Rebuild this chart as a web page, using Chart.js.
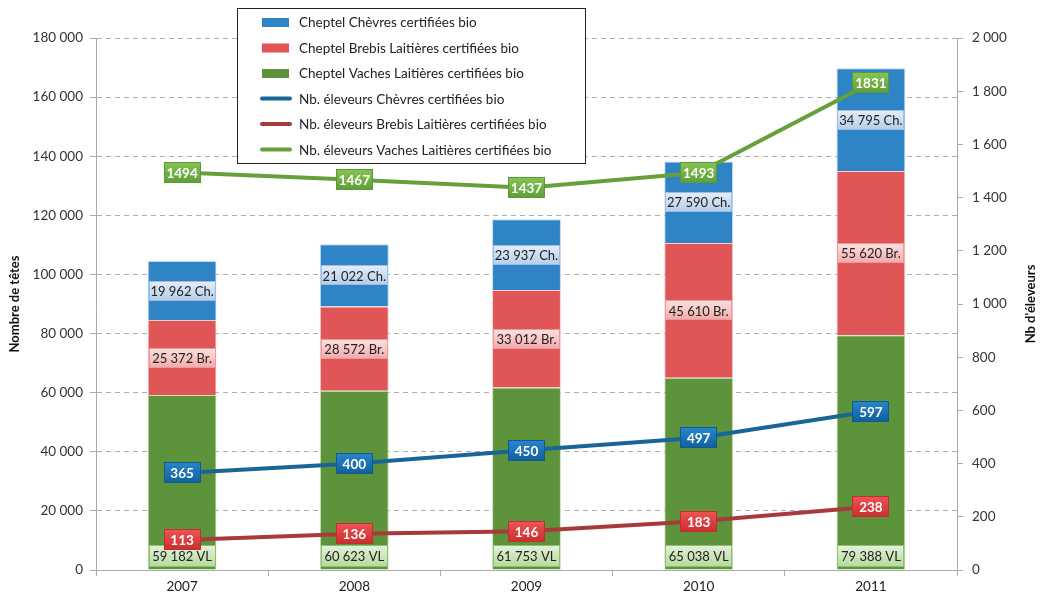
<!DOCTYPE html>
<html>
<head>
<meta charset="utf-8">
<script src="https://cdn.jsdelivr.net/npm/chart.js@4"></script>
<style>
  body { margin: 0; background: #fff; }
  #wrap { width: 1044px; height: 596px; }
</style>
</head>
<body>
<div id="wrap"><canvas id="graphique" width="1044" height="596"></canvas></div>
<script>
// Données
const annees = ['2007', '2008', '2009', '2010', '2011'];
const chevres = [19962, 21022, 23937, 27590, 34795];
const brebis = [25372, 28572, 33012, 45610, 55620];
const vaches = [59182, 60623, 61753, 65038, 79388];
const elevChevres = [365, 400, 450, 497, 597];
const elevBrebis = [113, 136, 146, 183, 238];
const elevVaches = [1494, 1467, 1437, 1493, 1831];
const ticksGauche = [0, 20000, 40000, 60000, 80000, 100000, 120000, 140000, 160000, 180000];

const police = 'Lato, "Open Sans", sans-serif';

function espaces(v) {
    return String(v).replace(/\B(?=(\d{3})+(?!\d))/g, ' ');
}

// boîte d'étiquette avec dégradé
function boite(ctx, cx, cy, w, h, haut, bas, bord, texte, couleurTexte, gras) {
    const x = Math.round(cx - w / 2), y = Math.round(cy - h / 2);
    const g = ctx.createLinearGradient(0, y, 0, y + h);
    g.addColorStop(0, haut);
    g.addColorStop(1, bas);
    ctx.fillStyle = g;
    ctx.fillRect(x, y, w, h);
    ctx.strokeStyle = bord;
    ctx.lineWidth = 1;
    ctx.strokeRect(x + 0.5, y + 0.5, w - 1, h - 1);
    ctx.fillStyle = couleurTexte;
    ctx.font = (gras ? 'bold 13.5px ' : '13px ') + police;
    ctx.textAlign = 'center';
    ctx.textBaseline = 'middle';
    ctx.fillText(texte, cx, cy + 1);
}

const etiquettes = {
    id: 'etiquettes',
    afterDraw(chart) {
        const ctx = chart.ctx;
        ctx.save();
        // étiquettes des barres
        const vl = chart.getDatasetMeta(0).data;
        const br = chart.getDatasetMeta(1).data;
        const ch = chart.getDatasetMeta(2).data;
        for (let i = 0; i < annees.length; i++) {
            const w = 67;
            boite(ctx, ch[i].x, (ch[i].y + ch[i].base) / 2, w, 20, '#e4eef9', '#b3cdea', '#9dbde0', espaces(chevres[i]) + ' Ch.', '#222', false);
            boite(ctx, br[i].x, (br[i].y + br[i].base) / 2, w, 20, '#fde2e2', '#f2a9a9', '#eb9a9a', espaces(brebis[i]) + ' Br.', '#222', false);
            boite(ctx, vl[i].x, vl[i].base - 14, w, 22, '#e6f2dc', '#b6d89d', '#8cc06a', espaces(vaches[i]) + ' VL', '#222', false);
        }
        // étiquettes des lignes
        const series = [
            [3, elevChevres, '#2a86cc', '#105f9c', '#0f5a94'],
            [4, elevBrebis, '#f05454', '#c92e2e', '#c03030'],
            [5, elevVaches, '#86c453', '#5f9e38', '#5b9936']
        ];
        series.forEach(([idx, vals, haut, bas, bord]) => {
            chart.getDatasetMeta(idx).data.forEach((p, i) => {
                boite(ctx, p.x, p.y, 37, 21, haut, bas, bord, String(vals[i]), '#fff', true);
            });
        });
        // titres des axes
        ctx.fillStyle = '#111';
        ctx.font = 'bold 13px ' + police;
        ctx.textAlign = 'center';
        ctx.textBaseline = 'middle';
        ctx.translate(15, 304);
        ctx.rotate(-Math.PI / 2);
        ctx.fillText('Nombre de têtes', 0, 0);
        ctx.setTransform(1, 0, 0, 1, 0, 0);
        ctx.translate(1031, 304);
        ctx.rotate(-Math.PI / 2);
        ctx.fillText("Nb d'éleveurs", 0, 0);
        ctx.setTransform(1, 0, 0, 1, 0, 0);
        // légende
        ctx.fillStyle = '#fff';
        ctx.fillRect(237.5, 8.5, 348, 155);
        ctx.strokeStyle = '#222';
        ctx.lineWidth = 1;
        ctx.strokeRect(237.5, 8.5, 348, 155);
        const items = [
            ['rect', '#2f84c5', 'Cheptel Chèvres certifiées bio'],
            ['rect', '#e05555', 'Cheptel Brebis Laitières certifiées bio'],
            ['rect', '#5d933b', 'Cheptel Vaches Laitières certifiées bio'],
            ['line', '#1a6598', 'Nb. éleveurs Chèvres certifiées bio'],
            ['line', '#a93a3a', 'Nb. éleveurs Brebis Laitières certifiées bio'],
            ['line', '#66a03c', 'Nb. éleveurs Vaches Laitières certifiées bio']
        ];
        ctx.font = '13.5px ' + police;
        ctx.textAlign = 'left';
        items.forEach(([type, couleur, texte], i) => {
            const y = 22 + i * 25.5;
            if (type === 'rect') {
                ctx.fillStyle = couleur;
                ctx.fillRect(262, y - 4, 27, 9);
            } else {
                ctx.strokeStyle = couleur;
                ctx.lineWidth = 4;
                ctx.lineCap = 'round';
                ctx.beginPath();
                ctx.moveTo(262, y);
                ctx.lineTo(290, y);
                ctx.stroke();
            }
            ctx.fillStyle = '#222';
            ctx.fillText(texte, 299, y + 1);
        });
        ctx.restore();
    }
};

Chart.defaults.font.family = police;
Chart.defaults.font.size = 13;
Chart.defaults.color = '#333';

const ctx = document.getElementById('graphique').getContext('2d');
new Chart(ctx, {
    type: 'bar',
    data: {
        labels: annees,
        datasets: [
            { label: 'Cheptel Vaches Laitières certifiées bio', data: vaches, backgroundColor: '#5d933b', borderColor: 'rgba(190,220,170,0.8)', borderWidth: 1, yAxisID: 'y', stack: 'cheptel', order: 1 },
            { label: 'Cheptel Brebis Laitières certifiées bio', data: brebis, backgroundColor: '#e05555', borderColor: 'rgba(250,190,190,0.8)', borderWidth: 1, yAxisID: 'y', stack: 'cheptel', order: 1 },
            { label: 'Cheptel Chèvres certifiées bio', data: chevres, backgroundColor: '#2f84c5', borderColor: 'rgba(180,210,240,0.8)', borderWidth: 1, yAxisID: 'y', stack: 'cheptel', order: 1 },
            { type: 'line', label: 'Nb. éleveurs Chèvres certifiées bio', data: elevChevres, borderColor: '#1a6598', borderWidth: 4, pointRadius: 0, tension: 0, yAxisID: 'y1', order: 0 },
            { type: 'line', label: 'Nb. éleveurs Brebis Laitières certifiées bio', data: elevBrebis, borderColor: '#a93a3a', borderWidth: 4, pointRadius: 0, tension: 0, yAxisID: 'y1', order: 0 },
            { type: 'line', label: 'Nb. éleveurs Vaches Laitières certifiées bio', data: elevVaches, borderColor: '#66a03c', borderWidth: 4, pointRadius: 0, tension: 0, yAxisID: 'y1', order: 0 }
        ]
    },
    options: {
        responsive: false,
        animation: false,
        layout: { padding: { top: 38, left: 0, right: 0, bottom: 0 } },
        datasets: { bar: { categoryPercentage: 0.4, barPercentage: 1 } },
        plugins: {
            legend: { display: false },
            tooltip: { enabled: false }
        },
        scales: {
            x: {
                stacked: true,
                afterFit: s => { s.height = 26; },
                grid: { offset: true, drawOnChartArea: false, drawTicks: true, tickLength: 6, color: '#aaa' },
                border: { color: '#aaa' },
                ticks: { padding: 3, color: '#222', font: { size: 13.5 } }
            },
            y: {
                stacked: true,
                position: 'left',
                min: 0,
                max: 180000,
                afterFit: s => { s.width = 96; },
                afterBuildTicks: s => { s.ticks = ticksGauche.map(v => ({ value: v })); },
                grid: { color: '#b0b0b0', tickColor: '#aaa', tickLength: 6, tickBorderDash: [] },
                border: { color: '#aaa', dash: [5, 4] },
                ticks: { padding: 7, color: '#333', font: { size: 13.5 }, callback: v => espaces(v) }
            },
            y1: {
                position: 'right',
                min: 0,
                max: 2000,
                afterFit: s => { s.width = 87; },
                grid: { drawOnChartArea: false, tickLength: 6, color: '#aaa' },
                border: { color: '#aaa' },
                ticks: { stepSize: 200, padding: 9, color: '#333', font: { size: 13.5 }, callback: v => espaces(v) }
            }
        }
    },
    plugins: [etiquettes]
});
</script>
</body>
</html>
